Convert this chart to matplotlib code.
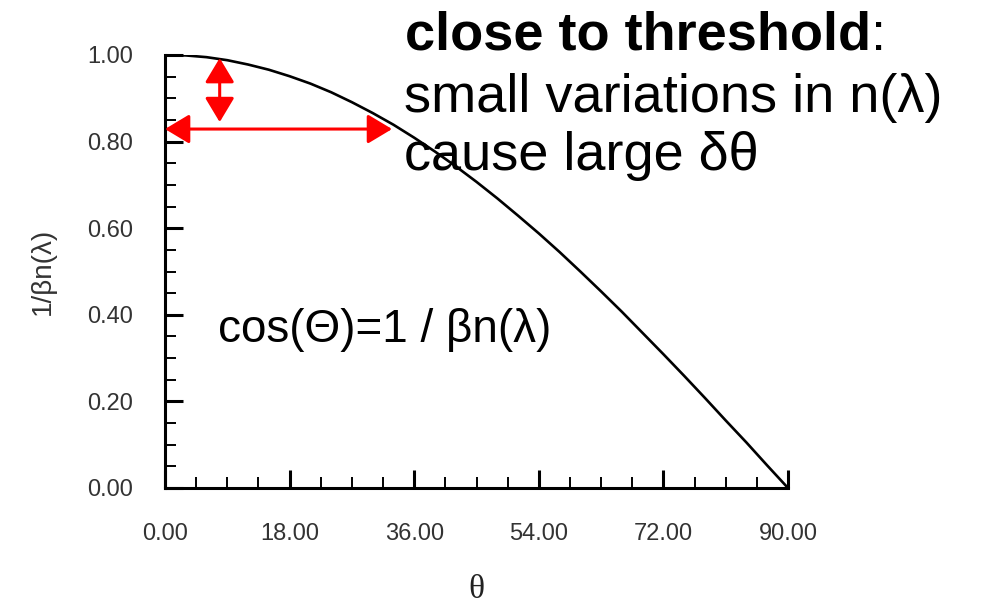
import numpy as np
import matplotlib
matplotlib.use("Agg")
import matplotlib.pyplot as plt
from matplotlib.ticker import MultipleLocator, FormatStrFormatter

plt.rcParams['font.family'] = ['Liberation Sans', 'DejaVu Sans']

# emission angle (deg) and 1/(beta n)
theta = [0, 3, 6, 9, 12, 15, 18, 21, 24, 27, 30, 33, 36, 39, 42, 45,
         48, 51, 54, 57, 60, 63, 66, 69, 72, 75, 78, 81, 84, 87, 90]
inv_beta_n = [1.000, 0.999, 0.995, 0.988, 0.978, 0.966, 0.951, 0.934,
              0.914, 0.891, 0.866, 0.839, 0.809, 0.777, 0.743, 0.707,
              0.669, 0.629, 0.588, 0.545, 0.500, 0.454, 0.407, 0.358,
              0.309, 0.259, 0.208, 0.156, 0.105, 0.052, 0.000]

# red arrows: small change in 1/(beta n) vs large change in theta
dn_x = 7.9
dn_y = [0.993, 0.845]
dtheta_x = [0.0, 32.8]
dtheta_y = 0.829

W, H = 1001, 606
fig = plt.figure(figsize=(W / 100, H / 100), dpi=100)
ax = fig.add_axes([165 / W, 1 - 488 / H, 623 / W, 433 / H])

ax.plot(theta, inv_beta_n, color='black', lw=1.9, solid_capstyle='butt')
ax.set_xlim(0, 90)
ax.set_ylim(0, 1)

for s in ['top', 'right']:
    ax.spines[s].set_visible(False)
for s in ['left', 'bottom']:
    ax.spines[s].set_linewidth(2.2)

ax.xaxis.set_major_locator(MultipleLocator(18))
ax.xaxis.set_minor_locator(MultipleLocator(4.5))
ax.yaxis.set_major_locator(MultipleLocator(0.2))
ax.yaxis.set_minor_locator(MultipleLocator(0.05))
ax.xaxis.set_major_formatter(FormatStrFormatter('%.2f'))
ax.yaxis.set_major_formatter(FormatStrFormatter('%.2f'))
ax.tick_params(which='major', direction='in', length=13, width=2.2,
               labelsize=17, labelcolor='#333333')
ax.tick_params(which='minor', direction='in', length=8, width=1.4)
ax.tick_params(axis='x', which='major', pad=25)
ax.tick_params(axis='y', which='major', pad=23)

ax.set_ylabel('1/βn(λ)', fontsize=20, color='#333333')
ax.yaxis.set_label_coords(-0.175, 0.5)
ax.set_xlabel('θ', fontsize=24, family=['Liberation Serif', 'DejaVu Serif'],
              color='#222222')
ax.xaxis.set_label_coords(0.5, -0.2)

astyle = '<|-|>,head_length=0.75,head_width=0.45'
ax.annotate('', xy=(dn_x, dn_y[1]), xytext=(dn_x, dn_y[0]),
            arrowprops=dict(arrowstyle=astyle, mutation_scale=20, color='red',
                            lw=2.2, shrinkA=0, shrinkB=0))
ax.annotate('', xy=(dtheta_x[1], dtheta_y), xytext=(dtheta_x[0], dtheta_y),
            arrowprops=dict(arrowstyle=astyle, mutation_scale=20, color='red',
                            lw=2.2, shrinkA=0, shrinkB=0),
            annotation_clip=False)

ax.text((218 - 165) / 623 * 90, 1 - (342 - 55) / 433, 'cos(Θ)=1 / βn(λ)',
        fontsize=33, va='baseline', ha='left')

big = 39
t1 = fig.text(405 / W, 1 - 50 / H, 'close to threshold', fontsize=big,
              fontweight='bold', va='baseline', ha='left')
fig.canvas.draw()
bb = t1.get_window_extent()
fig.text(bb.x1 / W, 1 - 50 / H, ':', fontsize=big, va='baseline', ha='left')
fig.text(404 / W, 1 - 112 / H, 'small variations in n(λ)', fontsize=big,
         va='baseline', ha='left')
fig.text(404 / W, 1 - 170 / H, 'cause large δθ', fontsize=big,
         va='baseline', ha='left')

fig.savefig('out.png', dpi=100)
